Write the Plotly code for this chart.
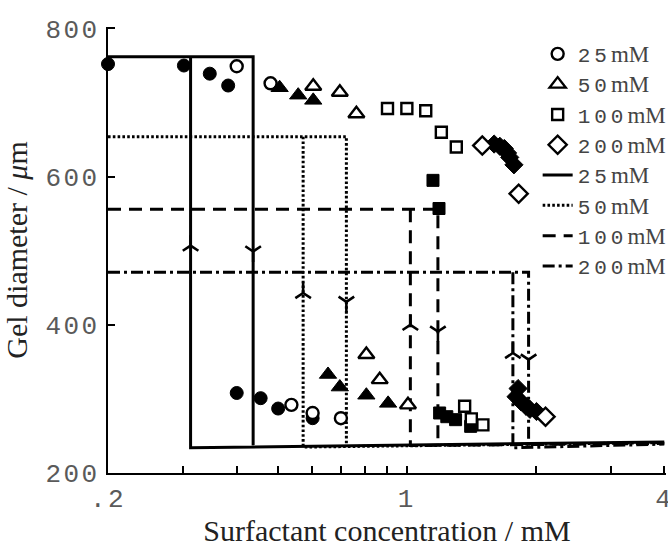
import math
import plotly.graph_objects as go

# ---------------- data ----------------
# 25 mM  (circles)
circ_open_x = [0.400, 0.480, 0.537, 0.602, 0.701]
circ_open_y = [749, 726, 292, 281, 274]
circ_fill_x = [0.200, 0.301, 0.346, 0.382, 0.400, 0.455, 0.500, 0.602]
circ_fill_y = [752, 750, 739, 723, 308, 301, 287, 274]

# 50 mM  (triangles)
tri_open_x = [0.604, 0.697, 0.762, 0.804, 0.864, 1.006]
tri_open_y = [722, 714, 685, 360, 326, 292]
tri_fill_x = [0.504, 0.557, 0.604, 0.654, 0.697, 0.804, 0.904]
tri_fill_y = [720, 710, 703, 333, 316, 305, 294]

# 100 mM (squares)
sq_open_x = [0.901, 1.000, 1.107, 1.204, 1.305, 1.365, 1.415, 1.506]
sq_open_y = [692, 692, 689, 660, 640, 290, 273, 265]
sq_fill_x = [1.151, 1.189, 1.193, 1.240, 1.300, 1.410]
sq_fill_y = [595, 557, 281, 276, 272, 263]

# 200 mM (diamonds)
dia_open_x = [1.501, 1.826, 2.110]
dia_open_y = [642, 577, 276]
dia_fill_x = [1.60, 1.65, 1.69, 1.72, 1.74, 1.78, 1.82, 1.80, 1.85, 1.90, 1.94, 2.01]
dia_fill_y = [644, 641, 638, 632, 626, 616, 314, 303, 296, 290, 286, 283]

# hysteresis loops (model lines)
l25_x = [0.2, 0.437, 0.437, None, 0.312, 0.312, 4.0]
l25_y = [762, 762, 237, None, 762, 234, 242]
l50_x = [0.2, 0.722, 0.722, None, 0.572, 0.572, 4.0]
l50_y = [654, 654, 236, None, 654, 235, 241]
l100_x = [0.2, 1.182, 1.182, None, 1.019, 1.019, 4.0]
l100_y = [556, 556, 237, None, 556, 237, 240]
l200_x = [0.2, 1.926, 1.926, None, 1.770, 1.770, 4.0]
l200_y = [471, 471, 234, None, 471, 234, 239]

# direction arrows on the vertical transitions
arrow_up_x = [0.312, 0.572, 1.019, 1.770]
arrow_up_y = [507, 443, 400, 362]
arrow_dn_x = [0.437, 0.722, 1.182, 1.926]
arrow_dn_y = [499, 431, 391, 353]

legend_names = ["25", "50", "100", "200"]

x_tickvals = [0.2, 0.3, 0.4, 0.5, 0.6, 0.7, 0.8, 0.9, 1, 2, 3, 4]
x_ticklabels = [".2", "", "", "", "", "", "", "", "1", "", "", "4"]
y_tickvals = [200, 400, 600, 800]
y_ticklabels = ["200", "400", "600", "800"]

# ---------------- styling ----------------
MONO = "Liberation Mono"
SERIF = "Liberation Serif"
GRAY = "#5a5a5a"


def spaced(t, sp=2.5):
    return "<span style='letter-spacing:%gpx'>%s</span>" % (sp, t) if t else ""


def legend_label(num):
    return ("<span style='letter-spacing:4px'>%s</span>"
            "<span style='font-family:%s;font-size:23px'>mM</span>") % (num, SERIF)


fig = go.Figure()

line_specs = [
    (l25_x, l25_y, "solid"),
    (l50_x, l50_y, "2.6px,2.2px"),
    (l100_x, l100_y, "13px,8px"),
    (l200_x, l200_y, "12px,4px,3px,4px"),
]
for i, (lx, ly, dash) in enumerate(line_specs):
    fig.add_trace(go.Scatter(
        x=lx, y=ly, mode="lines", name=legend_label(legend_names[i]),
        line=dict(color="black", width=3, dash=dash),
        legendrank=10 + i, connectgaps=False))

fig.add_trace(go.Scatter(
    x=arrow_up_x, y=arrow_up_y, mode="markers", showlegend=False,
    marker=dict(symbol="y-up", size=13, color="black",
                line=dict(color="black", width=2.6))))
fig.add_trace(go.Scatter(
    x=arrow_dn_x, y=arrow_dn_y, mode="markers", showlegend=False,
    marker=dict(symbol="y-down", size=13, color="black",
                line=dict(color="black", width=2.6))))

marker_specs = [
    (circ_open_x, circ_open_y, circ_fill_x, circ_fill_y, "circle", 12, 13),
    (tri_open_x, tri_open_y, tri_fill_x, tri_fill_y, "triangle-up", 14, 15),
    (sq_open_x, sq_open_y, sq_fill_x, sq_fill_y, "square", 11, 12),
    (dia_open_x, dia_open_y, dia_fill_x, dia_fill_y, "diamond", 14, 14),
]
for i, (ox, oy, fx, fy, sym, sz, fsz) in enumerate(marker_specs):
    fig.add_trace(go.Scatter(
        x=fx, y=fy, mode="markers", showlegend=False, cliponaxis=False,
        marker=dict(symbol=sym, size=fsz, color="black",
                    line=dict(color="black", width=1))))
    fig.add_trace(go.Scatter(
        x=ox, y=oy, mode="markers", name=legend_label(legend_names[i]),
        cliponaxis=False, legendrank=1 + i,
        marker=dict(symbol=sym, size=sz, color="white",
                    line=dict(color="black", width=2.4))))

fig.update_layout(
    width=668, height=547,
    margin=dict(l=108, r=2, t=27, b=74, autoexpand=False),
    paper_bgcolor="white", plot_bgcolor="white",
    showlegend=True,
    legend=dict(x=0.77, y=0.985, xanchor="left", yanchor="top",
                bgcolor="rgba(0,0,0,0)", borderwidth=0,
                font=dict(family=MONO, size=21, color="#444444"),
                tracegroupgap=0, traceorder="normal"),
)

fig.update_xaxes(
    type="log", range=[math.log10(0.2), math.log10(4) + 0.004],
    showline=True, linecolor="black", linewidth=2.2, mirror=False,
    ticks="inside", ticklen=7, tickwidth=2, tickcolor="black",
    tickmode="array", tickvals=x_tickvals,
    ticktext=[spaced(t) for t in x_ticklabels],
    tickfont=dict(family=MONO, size=26, color=GRAY),
    ticklabelstandoff=1, ticklabeloverflow="allow",
    showgrid=False, zeroline=False,
    title=dict(text="Surfactant concentration / mM",
               font=dict(family=SERIF, size=30, color="#222222"),
               standoff=16),
)
fig.update_yaxes(
    range=[200, 802],
    showline=True, linecolor="black", linewidth=2.2, mirror=False,
    ticks="inside", ticklen=7, tickwidth=2, tickcolor="black",
    tickmode="array", tickvals=y_tickvals,
    ticktext=[spaced(t) for t in y_ticklabels],
    tickfont=dict(family=MONO, size=26, color=GRAY),
    ticklabelstandoff=1, ticklabeloverflow="allow",
    showgrid=False, zeroline=False,
    title=dict(text="Gel diameter / <i>μ</i>m",
               font=dict(family=SERIF, size=30, color="#222222"),
               standoff=10),
)

fig.write_html("out.html")
